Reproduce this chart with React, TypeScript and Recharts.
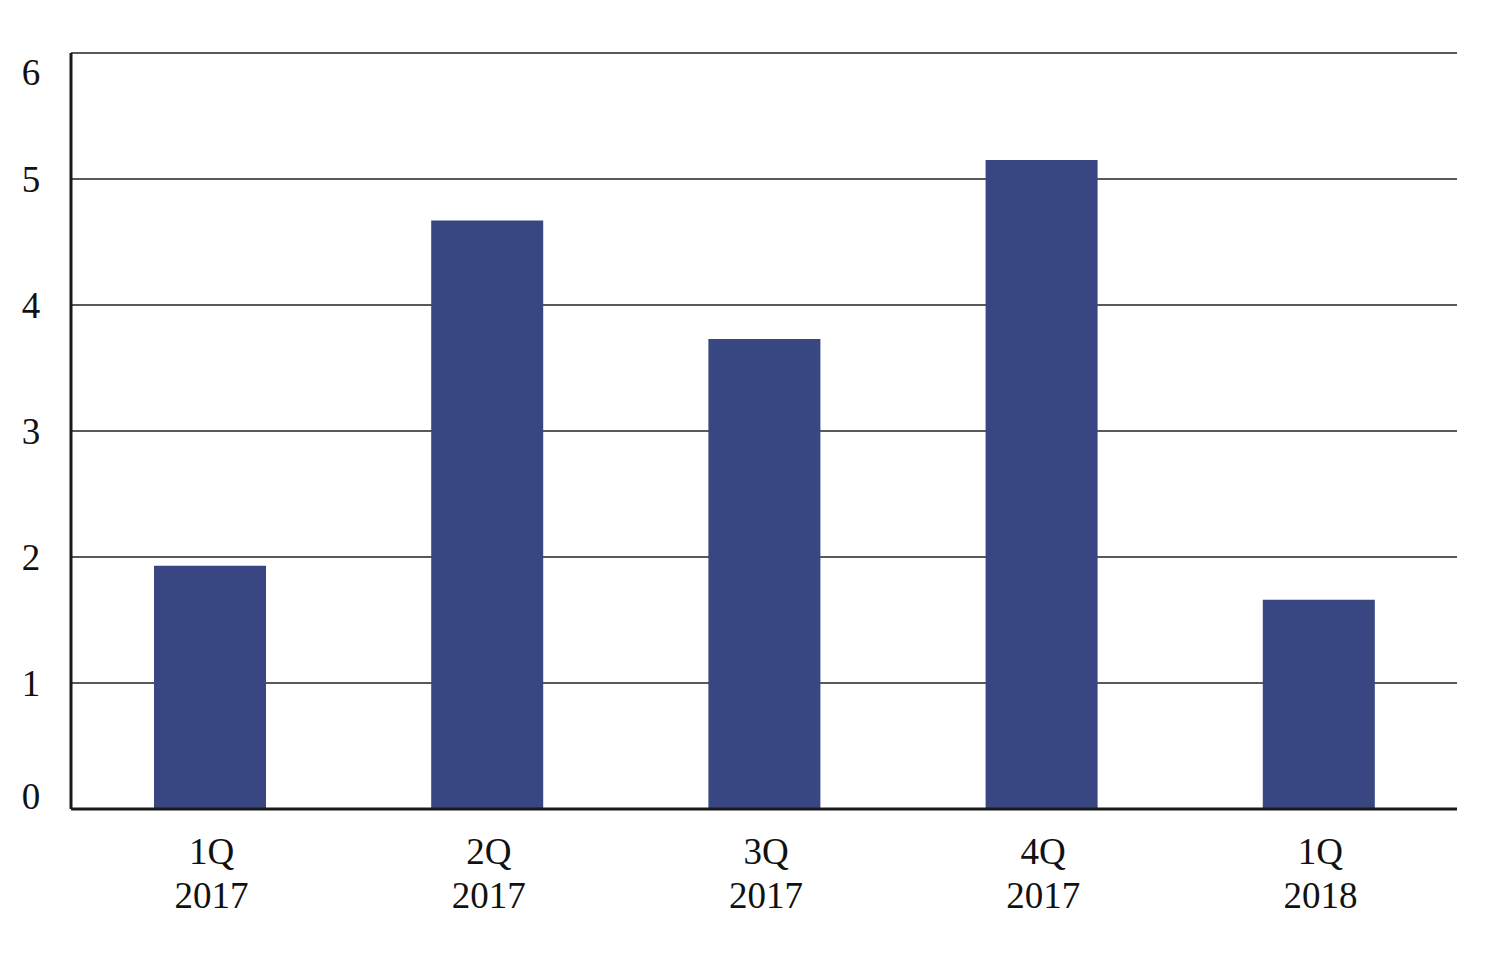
import React from 'react'
import { BarChart, Bar, XAxis, YAxis, CartesianGrid } from 'recharts'

const QUARTERS = ['1Q', '2Q', '3Q', '4Q', '1Q']
const YEARS = ['2017', '2017', '2017', '2017', '2018']
const VALUES = [1.93, 4.67, 3.73, 5.15, 1.66]
const Y_TICKS = [0, 1, 2, 3, 4, 5, 6]

const data = QUARTERS.map((q, i) => ({ q, year: YEARS[i], value: VALUES[i], key: `${q} ${YEARS[i]}` }))

const FONT = '"Liberation Serif", "Times New Roman", serif'

function YTick({ y, payload }: any) {
  const v = payload.value
  // top and bottom labels sit inside the plot in the original
  const dy = v === 6 ? 19 : v === 0 ? -13 : 0
  return (
    <text x={31} y={y + dy} dy="0.35em" textAnchor="middle" fontFamily={FONT} fontSize={37} fill="#111">
      {v}
    </text>
  )
}

function XTick({ x, y, payload }: any) {
  const row = data[payload.index]
  return (
    <text x={x} textAnchor="middle" fontFamily={FONT} fontSize={37} fill="#111">
      <tspan x={x + 2} y={y + 34} dy="0.35em">{row.q}</tspan>
      <tspan x={x + 2} y={y + 78} dy="0.35em">{row.year}</tspan>
    </text>
  )
}

export default function App() {
  return (
    <div style={{ position: 'absolute', left: 0, top: 0, background: '#fff' }}>
      <BarChart width={1510} height={958} data={data} margin={{ top: 53, right: 53, left: 0, bottom: 0 }} barCategoryGap="30%">
        <CartesianGrid vertical={false} stroke="#222" strokeWidth={1.5} />
        <XAxis
          dataKey="key"
          tick={<XTick />}
          tickLine={false}
          axisLine={{ stroke: '#1a1a1a', strokeWidth: 3 }}
          interval={0}
          height={149}
        />
        <YAxis
          domain={[0, 6]}
          ticks={Y_TICKS}
          tick={<YTick />}
          tickLine={false}
          axisLine={{ stroke: '#1a1a1a', strokeWidth: 3 }}
          width={71}
        />
        <Bar dataKey="value" fill="#384682" barSize={112} isAnimationActive={false} />
      </BarChart>
    </div>
  )
}
